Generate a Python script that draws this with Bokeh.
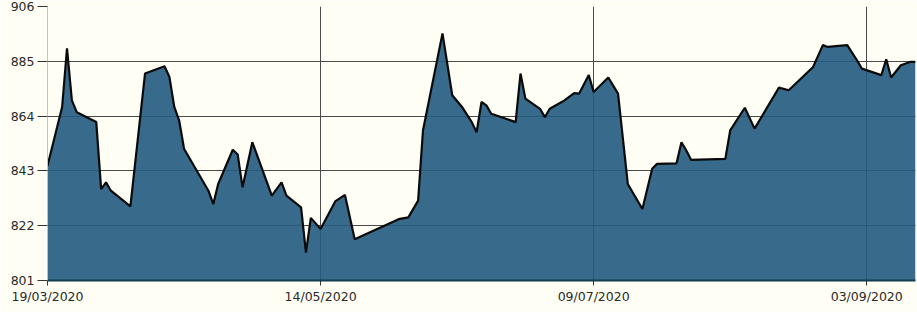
import pandas as pd
from bokeh.plotting import figure
from bokeh.models import Range1d, FixedTicker, DatetimeTickFormatter
from bokeh.embed import file_html
from bokeh.resources import INLINE

dates = ["2020-03-19", "2020-03-22", "2020-03-23", "2020-03-24", "2020-03-25", "2020-03-29", "2020-03-30", "2020-03-31",
         "2020-04-01", "2020-04-05", "2020-04-08", "2020-04-12", "2020-04-13", "2020-04-14", "2020-04-15", "2020-04-16",
         "2020-04-21", "2020-04-22", "2020-04-23", "2020-04-26", "2020-04-27", "2020-04-28", "2020-04-30",
         "2020-05-04", "2020-05-06", "2020-05-07", "2020-05-10", "2020-05-11", "2020-05-12", "2020-05-14", "2020-05-17",
         "2020-05-19", "2020-05-21", "2020-05-30",
         "2020-06-01", "2020-06-03", "2020-06-04", "2020-06-08", "2020-06-10", "2020-06-12", "2020-06-14", "2020-06-15",
         "2020-06-16", "2020-06-17", "2020-06-18", "2020-06-23", "2020-06-24", "2020-06-25", "2020-06-28", "2020-06-29",
         "2020-06-30",
         "2020-07-03", "2020-07-05", "2020-07-06", "2020-07-08", "2020-07-09", "2020-07-12", "2020-07-14", "2020-07-16",
         "2020-07-19", "2020-07-21", "2020-07-22", "2020-07-26", "2020-07-27", "2020-07-28", "2020-07-29",
         "2020-08-05", "2020-08-06", "2020-08-09", "2020-08-11", "2020-08-16", "2020-08-18", "2020-08-23", "2020-08-25",
         "2020-08-26", "2020-08-30",
         "2020-09-01", "2020-09-02", "2020-09-06", "2020-09-07", "2020-09-08", "2020-09-10", "2020-09-12", "2020-09-13"]

values = [845, 867.5, 890, 870, 865.5, 861.7, 836, 838.6,
          835.4, 829.4, 880.3, 883.1, 879, 867.5, 862.3, 851.5, 835.4, 830.3, 838, 851.1, 849.3, 836.7, 854,
          833.5, 838.6, 833.5, 829, 811.7, 825, 820.7, 831.3, 833.8, 816.8, 824.5,
          825.2, 831.6, 858.5, 895.7, 872, 867.5, 861.7, 857.8, 869.4, 868.1, 864.9, 861.7, 880.3, 870.7, 866.8, 863.6, 866.8,
          870, 872.8, 872.6, 879.7, 873.2, 878.8, 872.6, 838, 828.4, 843.8, 845.7, 845.9, 854, 850.8, 847.2,
          847.6, 858.5, 867.2, 859.2, 874.9, 873.9, 882.8, 891.2, 890.5, 891.2,
          885.4, 882.2, 879.7, 885.8, 878.8, 883.5, 884.8, 884.8]

y_ticks = [801, 822, 843, 864, 885, 906]
x_tick_labels = ["19/03/2020", "14/05/2020", "09/07/2020", "03/09/2020"]

x = pd.to_datetime(dates)
x_ticks_dt = pd.to_datetime(x_tick_labels, format="%d/%m/%Y")
x_ticks_ms = [t.value / 1e6 for t in x_ticks_dt]

BG = "#fffef5"

p = figure(width=917, height=312, output_backend="svg", toolbar_location=None,
           x_axis_type="datetime",
           x_range=Range1d(x[0], x[-1]), y_range=Range1d(y_ticks[0], y_ticks[-1]),
           min_border_left=47, min_border_right=2, min_border_top=6, min_border_bottom=32)
p.background_fill_color = BG
p.border_fill_color = BG
p.outline_line_color = None

p.varea(x=x, y1=y_ticks[0], y2=values, fill_color="#225b80", fill_alpha=0.9)
p.line(x=x, y=values, line_color="#0a0a0a", line_width=2.2)

p.xaxis.ticker = FixedTicker(ticks=x_ticks_ms)
fmt = "%d/%m/%Y"
p.xaxis.formatter = DatetimeTickFormatter(days=fmt, months=fmt, years=fmt, hours=fmt, context=None)
p.yaxis.ticker = FixedTicker(ticks=y_ticks)

for ax in (p.xaxis[0], p.yaxis[0]):
    ax.major_label_text_font = "DejaVu Sans"
    ax.major_label_text_font_size = "12.5px"
    ax.major_label_text_color = "#2a2a2a"
    ax.minor_tick_line_color = None
    ax.major_tick_in = 0
    ax.major_tick_line_color = "#333333"

p.yaxis.major_tick_out = 10
p.yaxis.major_label_standoff = 3
p.yaxis.axis_line_color = "#a9d6a9"
p.xaxis.major_tick_out = 5
p.xaxis.major_label_standoff = 3
p.xaxis.axis_line_color = "#0e3c50"
p.xaxis.axis_line_width = 2

p.xgrid.ticker = FixedTicker(ticks=x_ticks_ms)
p.ygrid.ticker = FixedTicker(ticks=y_ticks)
p.grid.grid_line_color = "#4a4a4a"
p.grid.grid_line_width = 1
p.grid.grid_line_alpha = 1.0

open("out.html", "w").write(file_html(p, INLINE))
